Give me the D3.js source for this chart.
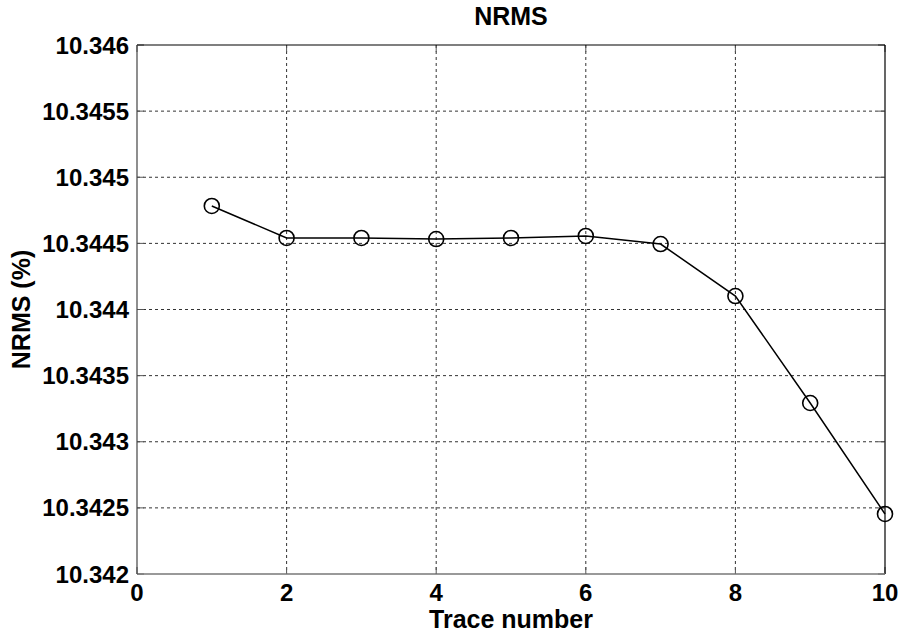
<!DOCTYPE html>
<html>
<head>
<meta charset="utf-8">
<script src="https://cdn.jsdelivr.net/npm/d3@7"></script>
<style>
  body { margin: 0; background: #fff; }
  text { font-family: "Liberation Sans", Arial, sans-serif; font-weight: bold; fill: #000; }
</style>
</head>
<body>
<svg id="main-svg" width="899" height="641"></svg>
<script>
// data
const traces = [1, 2, 3, 4, 5, 6, 7, 8, 9, 10];
const nrms = [10.344783, 10.344541, 10.344541, 10.344533, 10.344541,
              10.344556, 10.344495, 10.344102, 10.343293, 10.342454];
const xTicks = [0, 2, 4, 6, 8, 10];
const yTicks = [10.342, 10.3425, 10.343, 10.3435, 10.344, 10.3445, 10.345, 10.3455, 10.346];

const svg = d3.select("#main-svg");

// plot box
const plotL = 137, plotR = 885, plotT = 45, plotB = 574;

const x = d3.scaleLinear().domain([0, 10]).range([plotL, plotR]);
const y = d3.scaleLinear().domain([10.342, 10.346]).range([plotB, plotT]);

// grid lines (dotted)
svg.append("g").selectAll("line")
    .data(xTicks.slice(1, -1))
    .join("line")
    .attr("x1", d => x(d)).attr("x2", d => x(d))
    .attr("y1", plotT).attr("y2", plotB)
    .attr("stroke", "#333")
    .attr("stroke-dasharray", "3,3");

svg.append("g").selectAll("line")
    .data(yTicks.slice(1, -1))
    .join("line")
    .attr("x1", plotL).attr("x2", plotR)
    .attr("y1", d => y(d)).attr("y2", d => y(d))
    .attr("stroke", "#333")
    .attr("stroke-dasharray", "3,3");

// tick marks pointing inward, all four sides
const tl = 7;
const ticks = svg.append("g").attr("stroke", "#555");
xTicks.forEach(d => {
    ticks.append("line").attr("x1", x(d)).attr("x2", x(d)).attr("y1", plotB).attr("y2", plotB - tl);
    ticks.append("line").attr("x1", x(d)).attr("x2", x(d)).attr("y1", plotT).attr("y2", plotT + tl);
});
yTicks.forEach(d => {
    ticks.append("line").attr("x1", plotL).attr("x2", plotL + tl).attr("y1", y(d)).attr("y2", y(d));
    ticks.append("line").attr("x1", plotR).attr("x2", plotR - tl).attr("y1", y(d)).attr("y2", y(d));
});

// axis box
svg.append("line").attr("x1", plotL).attr("x2", plotR).attr("y1", plotT).attr("y2", plotT)
    .attr("stroke", "#000").attr("stroke-width", 1.2);
svg.append("line").attr("x1", plotR).attr("x2", plotR).attr("y1", plotT).attr("y2", plotB)
    .attr("stroke", "#000").attr("stroke-width", 1.2);
svg.append("line").attr("x1", plotL).attr("x2", plotR).attr("y1", plotB).attr("y2", plotB)
    .attr("stroke", "#777").attr("stroke-width", 1.5);
svg.append("line").attr("x1", plotL).attr("x2", plotL).attr("y1", plotT).attr("y2", plotB)
    .attr("stroke", "#444").attr("stroke-width", 1.2);

// tick labels
svg.append("g").selectAll("text")
    .data(xTicks)
    .join("text")
    .attr("x", d => x(d))
    .attr("y", 601)
    .attr("text-anchor", "middle")
    .style("font-size", "24px")
    .text(d => d);

svg.append("g").selectAll("text")
    .data(yTicks)
    .join("text")
    .attr("x", 129)
    .attr("y", d => y(d) + 8.5)
    .attr("text-anchor", "end")
    .style("font-size", "24px")
    .text(d => d3.format("")(d));

// data line and circle markers
const line = d3.line().x((d, i) => x(traces[i])).y(d => y(d));
svg.append("path")
    .datum(nrms)
    .attr("d", line)
    .attr("fill", "none")
    .attr("stroke", "#000")
    .attr("stroke-width", 1.5);

svg.append("g").selectAll("circle")
    .data(nrms)
    .join("circle")
    .attr("cx", (d, i) => x(traces[i]))
    .attr("cy", d => y(d))
    .attr("r", 7.5)
    .attr("fill", "none")
    .attr("stroke", "#000")
    .attr("stroke-width", 1.6);

// title and axis labels
svg.append("text")
    .attr("x", (plotL + plotR) / 2)
    .attr("y", 25)
    .attr("text-anchor", "middle")
    .style("font-size", "25px")
    .text("NRMS");

svg.append("text")
    .attr("x", (plotL + plotR) / 2)
    .attr("y", 628)
    .attr("text-anchor", "middle")
    .style("font-size", "25px")
    .text("Trace number");

svg.append("text")
    .attr("transform", `translate(30, ${(plotT + plotB) / 2}) rotate(-90)`)
    .attr("text-anchor", "middle")
    .style("font-size", "25px")
    .text("NRMS (%)");
</script>
</body>
</html>
